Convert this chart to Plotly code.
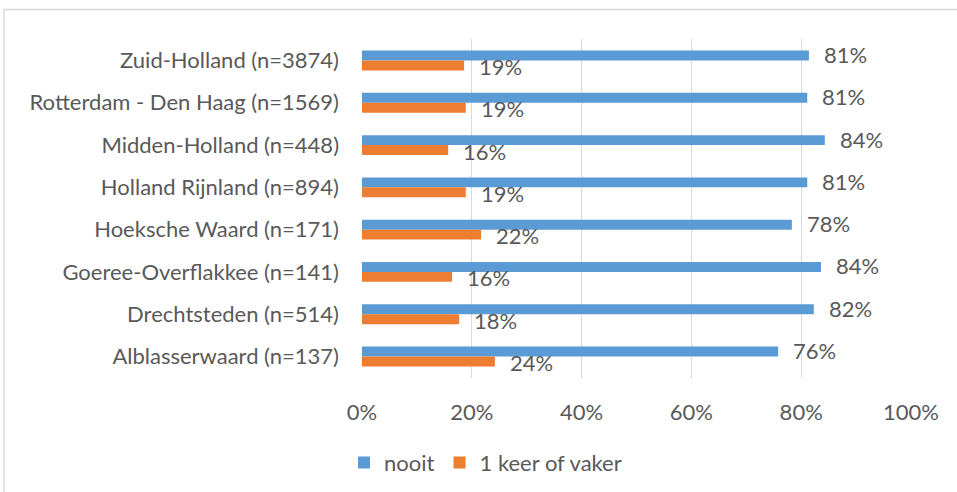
import plotly.graph_objects as go

categories = [
    "Zuid-Holland (n=3874)",
    "Rotterdam - Den Haag (n=1569)",
    "Midden-Holland (n=448)",
    "Holland Rijnland (n=894)",
    "Hoeksche Waard (n=171)",
    "Goeree-Overflakkee (n=141)",
    "Drechtsteden (n=514)",
    "Alblasserwaard (n=137)",
]
nooit = [0.814, 0.811, 0.843, 0.811, 0.783, 0.836, 0.823, 0.758]
vaker = [0.186, 0.189, 0.157, 0.189, 0.217, 0.164, 0.177, 0.242]
series_names = ["nooit", "1 keer of vaker"]
tick_vals = [0, 0.2, 0.4, 0.6, 0.8, 1.0]
tick_text = ["0%", "20%", "40%", "60%", "80%", "100%"]

BLUE = "#5B9BD5"
ORANGE = "#ED7D31"
TXT = "#595959"
FONT = "Lato"
FS = 22

fig = go.Figure()
fig.add_trace(go.Bar(y=categories, x=nooit, orientation="h", name=series_names[0],
                     marker=dict(color=BLUE, line=dict(width=0))))
fig.add_trace(go.Bar(y=categories, x=vaker, orientation="h", name=series_names[1],
                     marker=dict(color=ORANGE, line=dict(width=0))))

annotations = []
for vals, shift in ((nooit, 6), (vaker, -6)):
    for c, v in zip(categories, vals):
        annotations.append(dict(x=v, y=c, xref="x", yref="y", text=f"{round(v*100)}%",
                                showarrow=False, xanchor="left", yanchor="middle",
                                xshift=13, yshift=shift,
                                font=dict(family=FONT, size=FS, color=TXT)))

fig.update_layout(
    width=957, height=492,
    margin=dict(l=362, r=46, t=39, b=114, autoexpand=False),
    paper_bgcolor="white", plot_bgcolor="white",
    barmode="group", bargap=0.53, bargroupgap=0,
    font=dict(family=FONT, size=FS, color=TXT),
    annotations=annotations,
    showlegend=True,
    legend=dict(orientation="h", x=0.225, xanchor="center", y=-0.25, yanchor="middle",
                font=dict(family=FONT, size=FS, color=TXT), traceorder="normal"),
    shapes=[dict(type="rect", xref="paper", yref="paper",
                 x0=-0.652, x1=1.3, y0=-0.6, y1=1.087,
                 line=dict(color="#D9D9D9", width=1.5), fillcolor="rgba(0,0,0,0)", layer="below")],
)
fig.update_xaxes(range=[0, 1.0], tickvals=tick_vals, ticktext=tick_text,
                 showgrid=True, gridcolor="#D9D9D9", gridwidth=1.3, zeroline=False,
                 showline=False, ticks="", ticklabelstandoff=19, fixedrange=True,
                 automargin=False)
fig.update_yaxes(categoryorder="array", categoryarray=categories, autorange="reversed",
                 showgrid=False, zeroline=False, showline=False, ticks="",
                 ticklabelstandoff=22, fixedrange=True, automargin=False)

fig.write_html("out.html", config={"displayModeBar": False},
               post_script="document.body.style.margin='0';document.body.style.overflow='hidden';")
